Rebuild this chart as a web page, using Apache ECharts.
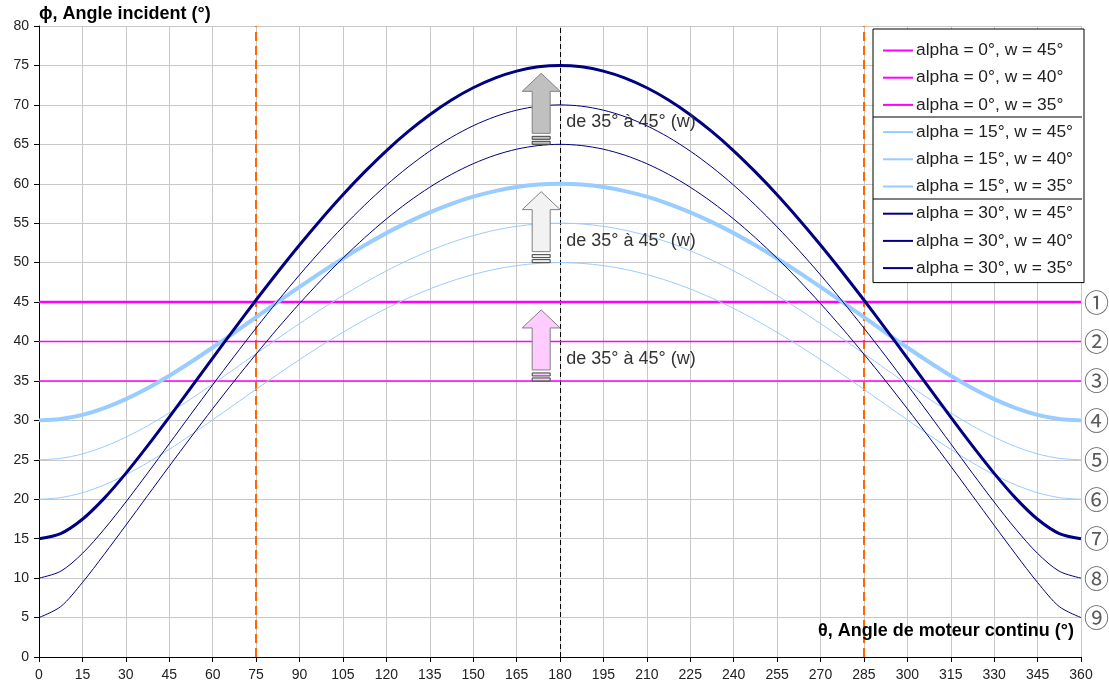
<!DOCTYPE html>
<html>
<head>
<meta charset="utf-8">
<script src="https://cdn.jsdelivr.net/npm/echarts@6/dist/echarts.min.js"></script>
<style>
html,body{margin:0;padding:0;background:#fff;}
#chart{width:1109px;height:688px;}
</style>
</head>
<body>
<div id="chart"></div>
<script>
// ---------- data ----------
var thetas = [0,7.5,15,22.5,30,37.5,45,52.5,60,67.5,75,82.5,90,97.5,105,112.5,120,127.5,135,142.5,150,157.5,165,172.5,
              180,187.5,195,202.5,210,217.5,225,232.5,240,247.5,255,262.5,270,277.5,285,292.5,300,307.5,315,322.5,330,337.5,345,352.5,360];
var thetaEnds = [0, 360];

var a0w45 = [45, 45];
var a0w40 = [40, 40];
var a0w35 = [35, 35];

var a15w45 = [30,30.18,30.7,31.56,32.7,34.08,35.66,37.4,39.24,41.14,43.08,45.02,46.92,48.77,50.53,52.19,53.74,55.14,56.38,57.46,58.36,59.07,59.59,59.9,
              60,59.9,59.59,59.07,58.36,57.46,56.38,55.14,53.74,52.19,50.53,48.77,46.92,45.02,43.08,41.14,39.24,37.4,35.66,34.08,32.7,31.56,30.7,30.18,30];
var a15w40 = [25,25.19,25.75,26.66,27.87,29.31,30.95,32.73,34.6,36.52,38.46,40.39,42.27,44.09,45.82,47.45,48.95,50.31,51.51,52.56,53.42,54.11,54.6,54.9,
              55,54.9,54.6,54.11,53.42,52.56,51.51,50.31,48.95,47.45,45.82,44.09,42.27,40.39,38.46,36.52,34.6,32.73,30.95,29.31,27.87,26.66,25.75,25.19,25];
var a15w35 = [20,20.21,20.83,21.81,23.1,24.63,26.33,28.16,30.06,32,33.94,35.84,37.7,39.48,41.16,42.74,44.19,45.5,46.66,47.66,48.49,49.15,49.62,49.9,
              50,49.9,49.62,49.15,48.49,47.66,46.66,45.5,44.19,42.74,41.16,39.48,37.7,35.84,33.94,32,30.06,28.16,26.33,24.63,23.1,21.81,20.83,20.21,20];

var a30w45 = [15,15.65,17.46,20.11,23.28,26.76,30.41,34.15,37.89,41.61,45.26,48.81,52.24,55.51,58.61,61.5,64.18,66.6,68.75,70.62,72.17,73.4,74.28,74.82,
              75,74.82,74.28,73.4,72.17,70.62,68.75,66.6,64.18,61.5,58.61,55.51,52.24,48.81,45.26,41.61,37.89,34.15,30.41,26.76,23.28,20.11,17.46,15.65,15];
var a30w40 = [10,10.87,13.13,16.19,19.65,23.3,27.04,30.79,34.5,38.15,41.7,45.14,48.44,51.58,54.53,57.29,59.82,62.11,64.14,65.89,67.35,68.5,69.33,69.83,
              70,69.83,69.33,68.5,67.35,65.89,64.14,62.11,59.82,57.29,54.53,51.58,48.44,45.14,41.7,38.15,34.5,30.79,27.04,23.3,19.65,16.19,13.13,10.87,10];
var a30w35 = [5,6.39,9.44,13,16.7,20.45,24.19,27.87,31.48,35,38.4,41.68,44.81,47.78,50.56,53.15,55.53,57.67,59.56,61.19,62.54,63.61,64.38,64.84,
              65,64.84,64.38,63.61,62.54,61.19,59.56,57.67,55.53,53.15,50.56,47.78,44.81,41.68,38.4,35,31.48,27.87,24.19,20.45,16.7,13,9.44,6.39,5];

var seriesNames = [
  'alpha = 0°, w = 45°','alpha = 0°, w = 40°','alpha = 0°, w = 35°',
  'alpha = 15°, w = 45°','alpha = 15°, w = 40°','alpha = 15°, w = 35°',
  'alpha = 30°, w = 45°','alpha = 30°, w = 40°','alpha = 30°, w = 35°'
];
var seriesValues = [a0w45,a0w40,a0w35,a15w45,a15w40,a15w35,a30w45,a30w40,a30w35];
var seriesX = [thetaEnds,thetaEnds,thetaEnds,thetas,thetas,thetas,thetas,thetas,thetas];

// vertical reference lines
var orangeLines = [75, 285];
var blackLines = [180];

// arrows: [x, from, to]
var arrows = [[173.5, 65, 74], [173.5, 50, 59], [173.5, 35, 44]];
var arrowLabels = ['de 35° à 45° (w)','de 35° à 45° (w)','de 35° à 45° (w)'];

// circled markers on right side
var circledValues = [45,40,35,30,25,20,15,10,5];
var circledMarks = ['①','②','③','④','⑤','⑥','⑦','⑧','⑨'];

var yTitle = 'ϕ, Angle incident (°)';
var xTitle = 'θ, Angle de moteur continu (°)';

// ---------- styles ----------
var FONT = '"Liberation Sans", Arial, sans-serif';
var seriesColors = ['#FF00FF','#FF00FF','#FF00FF','#99CCFF','#99CCFF','#99CCFF','#000080','#000080','#000080'];
var seriesWidths = [2.5,1.5,1.5,4,1,1,3,1,1];
var arrowColors = ['#C0C0C0','#F2F2F2','#FFCCFF'];

function pairs(xs, vals){
  var out = [];
  for (var i = 0; i < xs.length; i++) out.push([xs[i], vals[i]]);
  return out;
}

var series = [];
for (var s = 0; s < seriesNames.length; s++) {
  series.push({
    name: seriesNames[s],
    type: 'line',
    data: pairs(seriesX[s], seriesValues[s]),
    smooth: 0.3,
    symbol: 'none',
    lineStyle: { color: seriesColors[s], width: seriesWidths[s] },
    itemStyle: { color: seriesColors[s] },
    z: 10,
    animation: false
  });
}

// reference lines, attached to the first data series
series[0].markLine = {
  silent: true, symbol: ['none','none'], animation: false,
  label: { show: false },
  data: orangeLines.map(function(v){ return { xAxis: v, lineStyle: { color: '#FF6600', width: 2, type: [9,5] } }; })
    .concat(blackLines.map(function(v){ return { xAxis: v, lineStyle: { color: '#000', width: 1, type: [5,3] } }; }))
};

// circled markers (labels placed at the right edge of the plot)
series.push({
  type: 'scatter',
  data: circledValues.map(function(v){ return [360, v]; }),
  symbolSize: 0,
  silent: true,
  clip: false,
  animation: false,
  label: {
    show: true, position: 'right', distance: 3,
    fontSize: 25, fontFamily: '"Noto Sans CJK JP", "DejaVu Sans", sans-serif', color: '#333',
    formatter: function(p){ return circledMarks[p.dataIndex]; }
  }
});

// arrows
series.push({
  type: 'custom',
  data: arrows,
  z: 12,
  silent: true,
  animation: false,
  renderItem: function(params, api){
    var x = api.value(0), lo = api.value(1), hi = api.value(2);
    var pb = api.coord([x, lo]), pt = api.coord([x, hi]);
    var cx = pb[0], yb = pb[1], yt = pt[1];
    var headH = 18, headW = 19, shaftW = 9;
    var shaftBottom = yb - 11;
    var col = arrowColors[params.dataIndex];
    return {
      type: 'group',
      children: [
        { type: 'polygon',
          shape: { points: [[cx, yt],[cx+headW, yt+headH],[cx+shaftW, yt+headH],[cx+shaftW, shaftBottom],[cx-shaftW, shaftBottom],[cx-shaftW, yt+headH],[cx-headW, yt+headH]] },
          style: { fill: col, stroke: '#808080', lineWidth: 1 } },
        { type: 'rect', shape: { x: cx-shaftW, y: yb-8, width: shaftW*2, height: 3 },
          style: { fill: col, stroke: '#404040', lineWidth: 1 } },
        { type: 'rect', shape: { x: cx-shaftW, y: yb-3, width: shaftW*2, height: 3 },
          style: { fill: col, stroke: '#404040', lineWidth: 1 } },
        { type: 'text', x: cx + 25, y: yb - 22,
          style: { text: arrowLabels[params.dataIndex], fontSize: 18, fontFamily: FONT, fill: '#333', verticalAlign: 'middle', align: 'left' } }
      ]
    };
  }
});

var chart = echarts.init(document.getElementById('chart'), null, { renderer: 'canvas' });

var option = {
  backgroundColor: '#fff',
  animation: false,
  title: [
    { text: yTitle, left: 39, top: 5, padding: 0,
      textStyle: { fontSize: 18, fontWeight: 'bold', fontFamily: FONT, color: '#000' } },
    { text: xTitle, right: 35, top: 622, padding: 0,
      textStyle: { fontSize: 18, fontWeight: 'bold', fontFamily: FONT, color: '#000' } }
  ],
  grid: { left: 39, right: 28, top: 26, bottom: 31, containLabel: false },
  legend: {
    orient: 'vertical',
    left: 873, top: 29,
    padding: [13, 11, 6, 9],
    itemWidth: 30, itemHeight: 14, itemGap: 10.2,
    backgroundColor: '#fff',
    borderColor: '#000', borderWidth: 1,
    itemStyle: { opacity: 0 },
    textStyle: { fontSize: 17.4, fontFamily: FONT, color: '#222', padding: [0,0,0,-2] },
    data: seriesNames,
    z: 20
  },
  xAxis: {
    type: 'value', min: 0, max: 360, interval: 15,
    axisLine: { onZero: false, lineStyle: { color: '#000', width: 1 } },
    axisTick: { show: true, length: 5, lineStyle: { color: '#000' } },
    axisLabel: { fontSize: 14, fontFamily: FONT, color: '#222', margin: 11 },
    splitLine: { show: true, lineStyle: { color: '#c8c8c8', width: 1 } }
  },
  yAxis: {
    type: 'value', min: 0, max: 80, interval: 5, position: 'left',
    axisLine: { show: true, onZero: false, lineStyle: { color: '#000', width: 1 } },
    axisTick: { show: true, length: 5, lineStyle: { color: '#000' } },
    axisLabel: { fontSize: 14, fontFamily: FONT, color: '#222', margin: 10 },
    splitLine: { show: true, lineStyle: { color: '#c8c8c8', width: 1 } }
  },
  graphic: [
    { type: 'line', shape: { x1: 873, y1: 117, x2: 1082, y2: 117 }, style: { stroke: '#000', lineWidth: 1 }, z: 100 },
    { type: 'line', shape: { x1: 873, y1: 199, x2: 1082, y2: 199 }, style: { stroke: '#000', lineWidth: 1 }, z: 100 }
  ],
  series: series
};
chart.setOption(option);
</script>
</body>
</html>
